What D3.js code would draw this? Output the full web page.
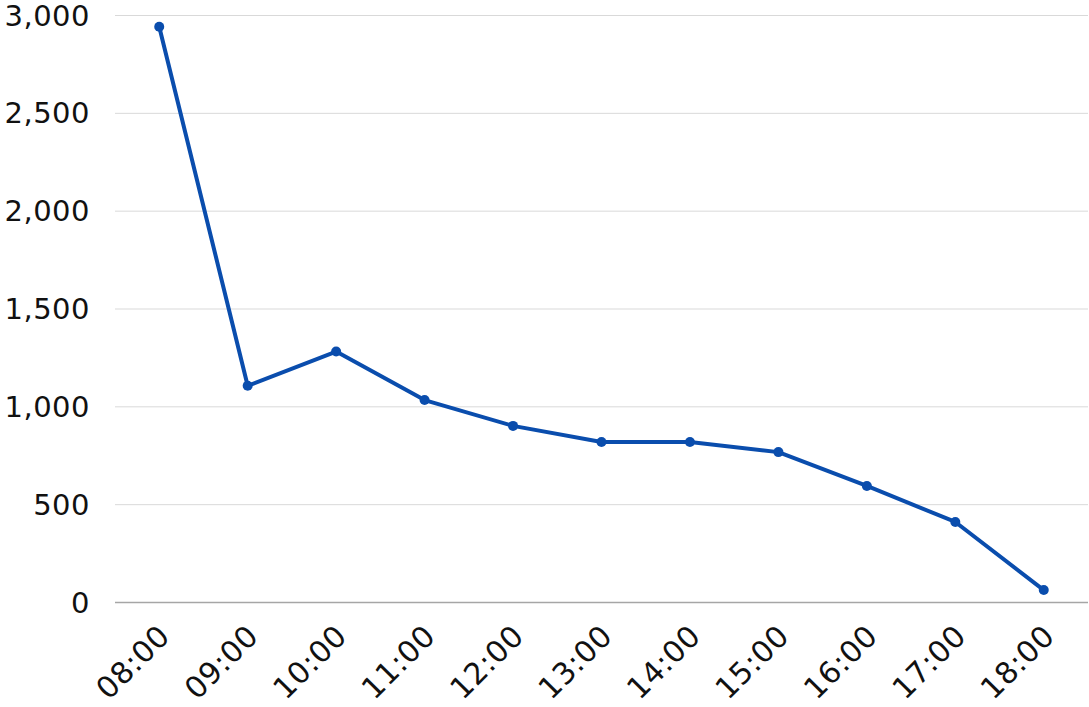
<!DOCTYPE html>
<html><head><meta charset="utf-8">
<script src="https://cdn.jsdelivr.net/npm/d3@7"></script>
<style>body{margin:0;background:#fff}svg{display:block}</style>
</head><body>
<script>
const categories = ["08:00","09:00","10:00","11:00","12:00","13:00","14:00","15:00","16:00","17:00","18:00"];
const values = [2940,1105,1280,1032,900,818,818,766,593,409,61];
const yTicks = [0,500,1000,1500,2000,2500,3000];

const W = 1089, H = 707;
const m = {left:115, right:1, top:15, bottom:105};
const svg = d3.select("body").append("svg").attr("width",W).attr("height",H);
const x = d3.scalePoint().domain(categories).range([m.left, W-m.right]).padding(0.5);
const y = d3.scaleLinear().domain([0,3000]).range([H-m.bottom, m.top]);
const font = "'DejaVu Sans', sans-serif";

// gridlines
svg.append("g").selectAll("line").data(yTicks.filter(d=>d>0)).join("line")
  .attr("x1", m.left).attr("x2", W-m.right)
  .attr("y1", d=>y(d)+0.5).attr("y2", d=>y(d)+0.5)
  .attr("stroke","#d9d9d9").attr("stroke-width",1);
// baseline
svg.append("line").attr("x1",m.left).attr("x2",W-m.right)
  .attr("y1",y(0)+0.5).attr("y2",y(0)+0.5).attr("stroke","#a6a6a6").attr("stroke-width",1.3);

// y axis labels
const yAxis = d3.axisLeft(y).tickValues(yTicks).tickSize(0).tickPadding(0)
  .tickFormat(d3.format(","));
const ya = svg.append("g").attr("transform",`translate(90,0)`).call(yAxis);
ya.select(".domain").remove();
ya.selectAll("text").attr("font-family",font).attr("font-size",29).attr("fill","#111")
  .attr("dy","0.35em").attr("letter-spacing","0.5px");

// x axis labels
const xAxis = d3.axisBottom(x).tickSize(0).tickPadding(0);
const xa = svg.append("g").attr("transform",`translate(0,${y(0)})`).call(xAxis);
xa.select(".domain").remove();
xa.selectAll("text").attr("font-family",font).attr("font-size",30).attr("fill","#111")
  .attr("text-anchor","end").attr("dy",null).attr("y",0).attr("letter-spacing","0.5px")
  .attr("transform","translate(12,36) rotate(-45)");

// line
const line = d3.line().x((d,i)=>x(categories[i])).y(d=>y(d));
svg.append("path").datum(values).attr("d",line).attr("fill","none")
  .attr("stroke","#0A4DAD").attr("stroke-width",4).attr("stroke-linejoin","round");
svg.append("g").selectAll("circle").data(values).join("circle")
  .attr("cx",(d,i)=>x(categories[i])).attr("cy",d=>y(d)).attr("r",5).attr("fill","#0A4DAD");
</script>
</body></html>
